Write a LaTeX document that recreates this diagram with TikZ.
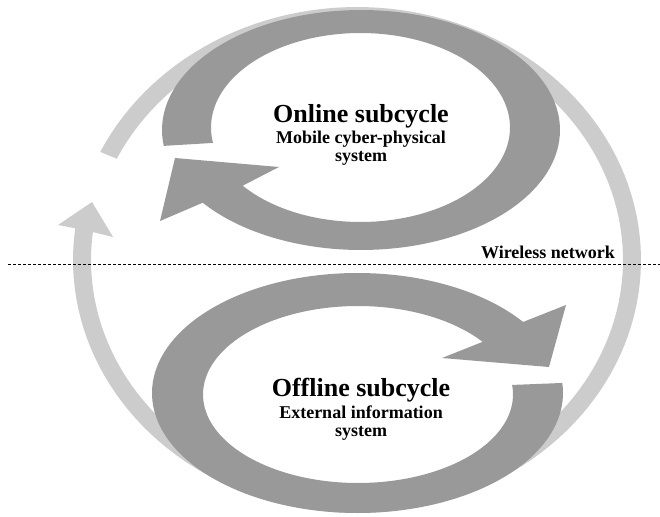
\documentclass[tikz,border=0pt]{standalone}
\usepackage{fontspec}
\setmainfont{Liberation Serif}
\definecolor{ringlight}{HTML}{CCCCCC}
\definecolor{ringdark}{HTML}{999999}
\begin{document}
\begin{tikzpicture}[x=1pt,y=-1pt,
  bigtitle/.style={font=\fontsize{26}{30}\selectfont\bfseries, inner sep=0pt, anchor=base},
  subtitle/.style={font=\fontsize{18}{21}\selectfont\bfseries, inner sep=0pt, anchor=base},
  divider/.style={line width=0.8pt, dash pattern=on 3pt off 2pt}]
\useasboundingbox (0,0) rectangle (660,516);

% large outer cycle (light grey), clockwise with head at the left
\fill[ringlight]
  plot[domain=205.3:547.2, samples=150] ({357+284*cos(\x)},{260+253*sin(\x)})
  -- (58,225) -- (92,202) -- (113,237)
  -- plot[domain=546.8:205.4, samples=150] ({357+266*cos(\x)},{260+236*sin(\x)})
  -- cycle;

% online subcycle (upper dark ring)
\fill[ringdark]
  plot[domain=172.4:502.7, samples=150] ({361+199*cos(\x)},{130+120*sin(\x)})
  -- (160,221) -- (175,158) -- (279,167)
  -- plot[domain=502:170.6, samples=150] ({360.5+149.5*cos(\x)},{127.5+94.5*sin(\x)})
  -- cycle;

% offline subcycle (lower dark ring)
\fill[ringdark]
  plot[domain=-4.8:323.7, samples=150] ({357.5+205.5*cos(\x)},{393+120*sin(\x)})
  -- (566,305) -- (549,367) -- (442,358)
  -- plot[domain=323.5:-6.2, samples=150] ({358+155*cos(\x)},{394.5+88.5*sin(\x)})
  -- cycle;

% labels
\node[bigtitle] (ontitle) at (361,122) {Online subcycle};
\node[subtitle] (onsub) at (361,143) {Mobile cyber-physical};
\node[subtitle] (onsys) at (361,161) {system};

\node[bigtitle] (offtitle) at (361,396) {Offline subcycle};
\node[subtitle] (offsub) at (361,418) {External information};
\node[subtitle] (offsys) at (361,436) {system};

\node[subtitle] (wireless) at (548,258) {Wireless network};

% network boundary
\coordinate (lineL) at (8,264);
\coordinate (lineR) at (660,264);
\draw[divider] (lineL) -- (lineR);
\end{tikzpicture}
\end{document}
